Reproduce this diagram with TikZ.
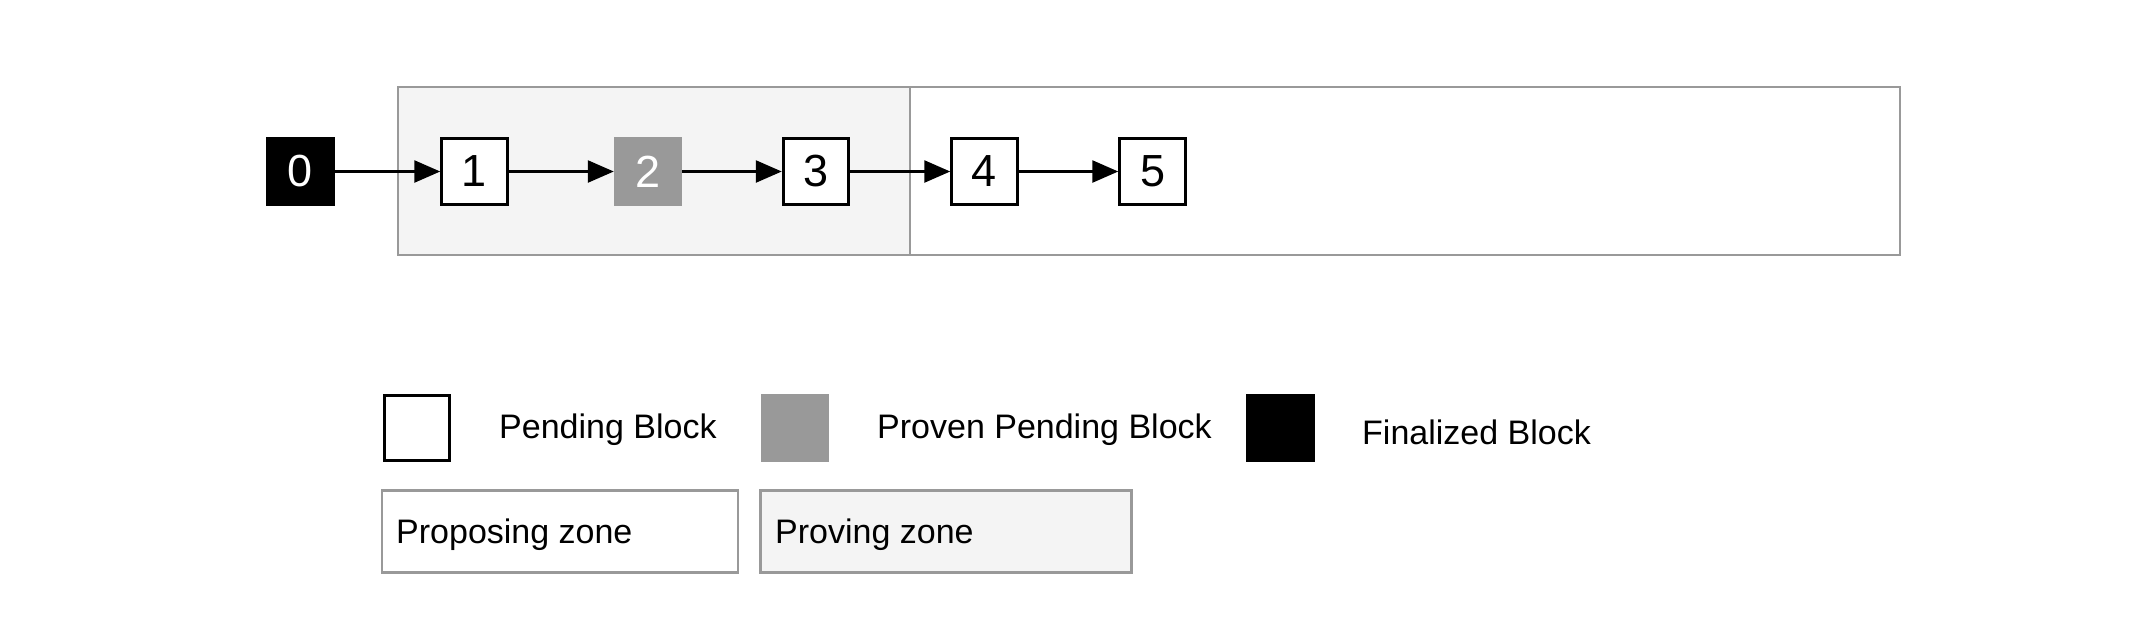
\documentclass[tikz,border=0pt]{standalone}
\usepackage{fontspec}
\setmainfont{Liberation Sans}
\usetikzlibrary{arrows.meta}
\definecolor{zoneline}{HTML}{999999}
\definecolor{provfill}{HTML}{F4F4F4}
\definecolor{provenblk}{HTML}{999999}
\begin{document}
\begin{tikzpicture}[x=1pt,y=-1pt,
  blk/.style={draw=black,line width=3pt,fill=white,minimum size=65.5pt,inner sep=0pt,font=\fontsize{45}{48}\selectfont},
  finblk/.style={blk,draw=black,fill=black,text=white},
  provblk/.style={blk,draw=provenblk,fill=provenblk,text=white},
  zone/.style={draw=zoneline,line width=2.7pt,inner sep=0pt},
  arr/.style={line width=2.6pt,-{Triangle[length=26pt,width=22pt]}},
  lgd/.style={anchor=base west,inner sep=0pt,font=\fontsize{34}{40}\selectfont}
]
\useasboundingbox (0,0) rectangle (2144,630);
% zones
\node[zone,fill=provfill,minimum width=512pt,minimum height=168pt] (proving) at (654,171) {};
\node[zone,fill=white,minimum width=990pt,minimum height=168pt] (proposing) at (1405,171) {};
% blocks
\node[finblk] (b0) at (300.5,171.5) {0};
\node[blk] (b1) at (474.5,171.5) {1};
\node[provblk] (b2) at (648,171.5) {2};
\node[blk] (b3) at (816,171.5) {3};
\node[blk] (b4) at (984.5,171.5) {4};
\node[blk] (b5) at (1152.5,171.5) {5};
\draw[arr] (b0) -- (b1);
\draw[arr] (b1) -- (b2);
\draw[arr] (b2) -- (b3);
\draw[arr] (b3) -- (b4);
\draw[arr] (b4) -- (b5);
% legend row 1
\node[blk] (lpend) at (417,428) {};
\node[lgd] (tpend) at (499,438) {Pending Block};
\node[provblk] (lprov) at (795,428) {};
\node[lgd] (tprov) at (877,438) {Proven Pending Block};
\node[finblk] (lfin) at (1280.5,428) {};
\node[lgd] (tfin) at (1362,444) {Finalized Block};
% legend row 2
\node[zone,fill=white,minimum width=356pt,minimum height=82pt] (lpropz) at (560,531.5) {};
\node[lgd] (tpropz) at (396,543) {Proposing zone};
\node[zone,fill=provfill,minimum width=371pt,minimum height=82pt] (lprovz) at (946,531.5) {};
\node[lgd] (tprovz) at (775,543) {Proving zone};
\end{tikzpicture}
\end{document}
